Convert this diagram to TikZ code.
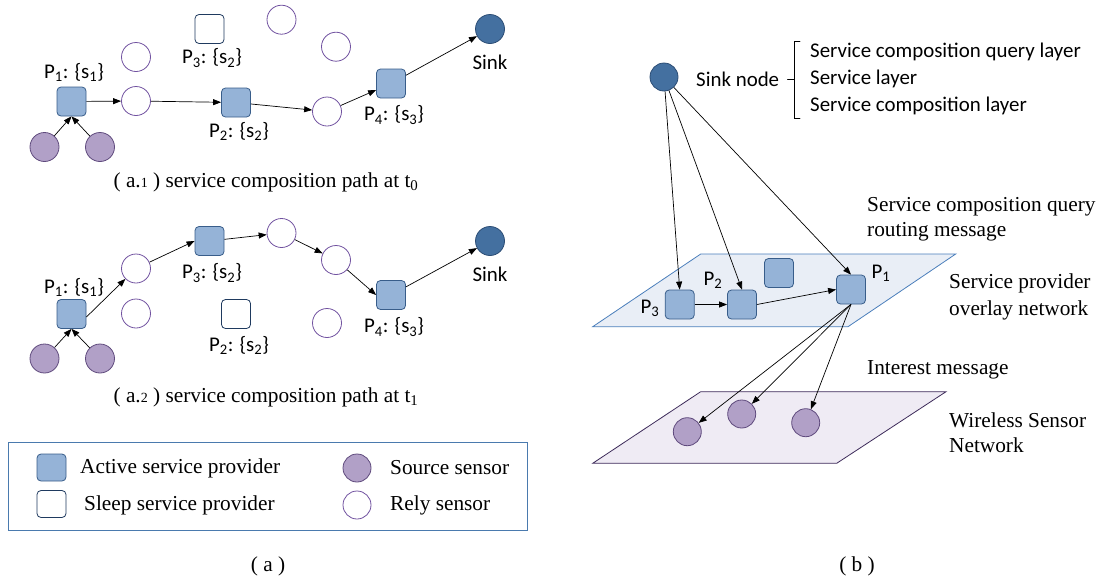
\documentclass[tikz,border=0pt]{standalone}
\usepackage{fontspec}
\setmainfont{Liberation Serif}
\newfontfamily\sa{Carlito}
\usetikzlibrary{arrows.meta}
\definecolor{actF}{HTML}{95B3D7}
\definecolor{actD}{HTML}{385D8A}
\definecolor{sinkF}{HTML}{4470A0}
\definecolor{sinkD}{HTML}{2C4D75}
\definecolor{srcF}{HTML}{B1A0C7}
\definecolor{srcD}{HTML}{5F4A7D}
\definecolor{relD}{HTML}{7152A0}
\definecolor{slpD}{HTML}{1F3A5F}
\definecolor{planeB}{HTML}{E9EEF6}
\definecolor{planeBD}{HTML}{4A7EBB}
\definecolor{planeP}{HTML}{EFEBF4}
\definecolor{planePD}{HTML}{3D2B5A}
\definecolor{legD}{HTML}{4A7AAE}
\tikzset{
  act/.style={draw=actD, fill=actF, rounded corners=4pt, minimum size=29pt, inner sep=0pt, line width=0.8pt},
  slp/.style={draw=slpD, fill=white, rounded corners=4pt, minimum size=29pt, inner sep=0pt, line width=0.8pt},
  src/.style={circle, draw=srcD, fill=srcF, minimum size=29pt, inner sep=0pt, line width=0.8pt},
  rel/.style={circle, draw=relD, fill=white, minimum size=29pt, inner sep=0pt, line width=0.8pt},
  snk/.style={circle, draw=sinkD, fill=sinkF, minimum size=29pt, inner sep=0pt, line width=0.8pt},
  lab/.style={font=\sa\fontsize{20.9}{22}\selectfont, inner sep=0pt},
  ser/.style={font=\fontsize{21.3}{24}\selectfont, inner sep=0pt},
  arr/.style={-{Triangle[length=8pt,width=6pt]}, line width=0.7pt},
  ln/.style={line width=0.7pt}
}
\begin{document}
\begin{tikzpicture}[x=1pt,y=-1pt]
\useasboundingbox (0,0) rectangle (1096,579);

% ---------- (a.1) ----------
\node[act] (a1P1) at (71.5,101.5) {};
\node[rel] (a1r1) at (136,101) {};
\node[act] (a1P2) at (236,102.5) {};
\node[rel] (a1r2) at (327,111.5) {};
\node[act] (a1P4) at (391,83.5) {};
\node[snk] (a1S) at (490,29) {};
\node[src] (a1s1) at (44.5,147) {};
\node[src] (a1s2) at (100,147) {};
\node[slp] (a1P3) at (209.5,29) {};
\node[rel] (a1r3) at (136,57) {};
\node[rel] (a1r4) at (281.5,19.7) {};
\node[rel] (a1r5) at (336,46.7) {};
\node[lab] (a1L1) at (74,72) {P\textsubscript{1}: \{s\textsubscript{1}\}};
\node[lab] (a1L3) at (212,58) {P\textsubscript{3}: \{s\textsubscript{2}\}};
\node[lab] (a1L2) at (239,131) {P\textsubscript{2}: \{s\textsubscript{2}\}};
\node[lab] (a1L4) at (394,115) {P\textsubscript{4}: \{s\textsubscript{3}\}};
\node[lab] (a1LS) at (490,62) {Sink};
\node[ser] (a1cap) at (266,182) {( a.{\fontsize{14}{14}\selectfont 1} ) service composition path at t\textsubscript{0}};
\draw[arr] (a1s1) -- (a1P1.south);
\draw[arr] (a1s2) -- (a1P1.south);
\draw[arr] (a1P1) -- (a1r1);
\draw[arr] (a1r1) -- (a1P2);
\draw[arr] (a1P2) -- (a1r2);
\draw[arr] (a1r2) -- (a1P4);
\draw[arr] (a1P4) -- (a1S);

% ---------- (a.2) ----------
\node[act] (a2P1) at (71.5,314) {};
\node[rel] (a2r1) at (136,268.5) {};
\node[act] (a2P3) at (209.5,241) {};
\node[rel] (a2r2) at (281.5,233) {};
\node[rel] (a2r3) at (336,260) {};
\node[act] (a2P4) at (391,295) {};
\node[snk] (a2S) at (490,241) {};
\node[rel] (a2r4) at (136,313.5) {};
\node[slp] (a2P2) at (236,314) {};
\node[rel] (a2r5) at (327,323) {};
\node[src] (a2s1) at (44.5,358.5) {};
\node[src] (a2s2) at (100,358.5) {};
\node[lab] (a2L1) at (74,287) {P\textsubscript{1}: \{s\textsubscript{1}\}};
\node[lab] (a2L3) at (212,273) {P\textsubscript{3}: \{s\textsubscript{2}\}};
\node[lab] (a2L2) at (239,345) {P\textsubscript{2}: \{s\textsubscript{2}\}};
\node[lab] (a2L4) at (394,327) {P\textsubscript{4}: \{s\textsubscript{3}\}};
\node[lab] (a2LS) at (490,274) {Sink};
\node[ser] (a2cap) at (266,397) {( a.{\fontsize{14}{14}\selectfont 2} ) service composition path at t\textsubscript{1}};
\draw[arr] (a2s1) -- (a2P1.south);
\draw[arr] (a2s2) -- (a2P1.south);
\draw[arr] ([yshift=-3pt]a2P1.east) -- (a2r1);
\draw[arr] (a2r1) -- (a2P3.west);
\draw[arr] (a2P3) -- (a2r2);
\draw[arr] (a2r2) -- (a2r3);
\draw[arr] (a2r3) -- (a2P4.west);
\draw[arr] (a2P4) -- (a2S);

% ---------- legend ----------
\node[draw=legD, line width=0.8pt, minimum width=519pt, minimum height=88pt, inner sep=0pt] (leg) at (268,486.5) {};
\node[act, minimum width=29pt, minimum height=27pt] (lgA) at (51.5,467.5) {};
\node[slp, minimum width=29pt, minimum height=27pt] (lgS) at (51.5,504) {};
\node[src, minimum size=28pt] (lgSrc) at (357,468) {};
\node[rel, minimum size=28pt] (lgR) at (357,505) {};
\node[ser, anchor=west] (lgAt) at (80,468) {Active service provider};
\node[ser, anchor=west] (lgSt) at (84,505) {Sleep service provider};
\node[ser, anchor=west] (lgSrct) at (390,468) {Source sensor};
\node[ser, anchor=west] (lgRt) at (390,505) {Rely sensor};
\node[ser] (capa) at (268,566) {( a )};
\node[ser] (capb) at (857,566) {( b )};

% ---------- (b) ----------
\path[fill=planeB, draw=planeBD, line width=0.8pt] (700.7,254) coordinate (u1) -- (955.7,254) coordinate (u2) -- (848,326.7) coordinate (u3) -- (592.7,326.7) coordinate (u4) -- cycle;
\path[fill=planeP, draw=planePD, line width=0.8pt] (700.7,391.7) coordinate (w1) -- (946,391.7) coordinate (w2) -- (836.7,463.3) coordinate (w3) -- (592.7,463.3) coordinate (w4) -- cycle;

\node[snk, minimum size=28pt] (bS) at (664,77) {};
\node[lab, anchor=west] (bSt) at (696,79) {Sink node};
\draw[ln, line cap=round] (800,41) -- (794,41) -- (794,118) -- (800,118)
  (794,79) -- (787.5,79);
\node[lab, anchor=west] (bL1) at (810,52) {Service composition query layer};
\node[lab, anchor=west] (bL2) at (810,79) {Service layer};
\node[lab, anchor=west] (bL3) at (810,106) {Service composition layer};

\node[act] (bP3) at (679.7,304.5) {};
\node[act] (bP2) at (742,304.5) {};
\node[act] (bPx) at (779,273) {};
\node[act] (bP1) at (851,289.5) {};
\node[lab] (bP3t) at (650,308) {P\textsubscript{3}};
\node[lab] (bP2t) at (713,280) {P\textsubscript{2}};
\node[lab] (bP1t) at (881,273) {P\textsubscript{1}};

\node[src, minimum size=28pt] (bs1) at (687.3,431.7) {};
\node[src, minimum size=28pt] (bs2) at (741.7,414) {};
\node[src, minimum size=28pt] (bs3) at (805.7,422.7) {};

\draw[arr] (bS) -- (bP3.north);
\draw[arr] (bS) -- (bP2.north);
\draw[arr] (bS) -- (bP1.north);
\draw[arr] (bP3) -- (bP2);
\draw[arr] (bP2.east) -- (bP1.west);
\draw[arr] (bP1.south) -- (bs1);
\draw[arr] (bP1.south) -- (bs2);
\draw[arr] (bP1.south) -- (bs3);

\node[ser, anchor=west] (bq1) at (867,207) {Service composition query};
\node[ser, anchor=west] (bq2) at (867,232) {routing message};
\node[ser, anchor=west] (bo1) at (949,283) {Service provider};
\node[ser, anchor=west] (bo2) at (949,310) {overlay network};
\node[ser, anchor=west] (bi) at (867,370) {Interest message};
\node[ser, anchor=west] (bw1) at (949,420) {Wireless Sensor};
\node[ser, anchor=west] (bw2) at (949,445) {Network};
\end{tikzpicture}
\end{document}
